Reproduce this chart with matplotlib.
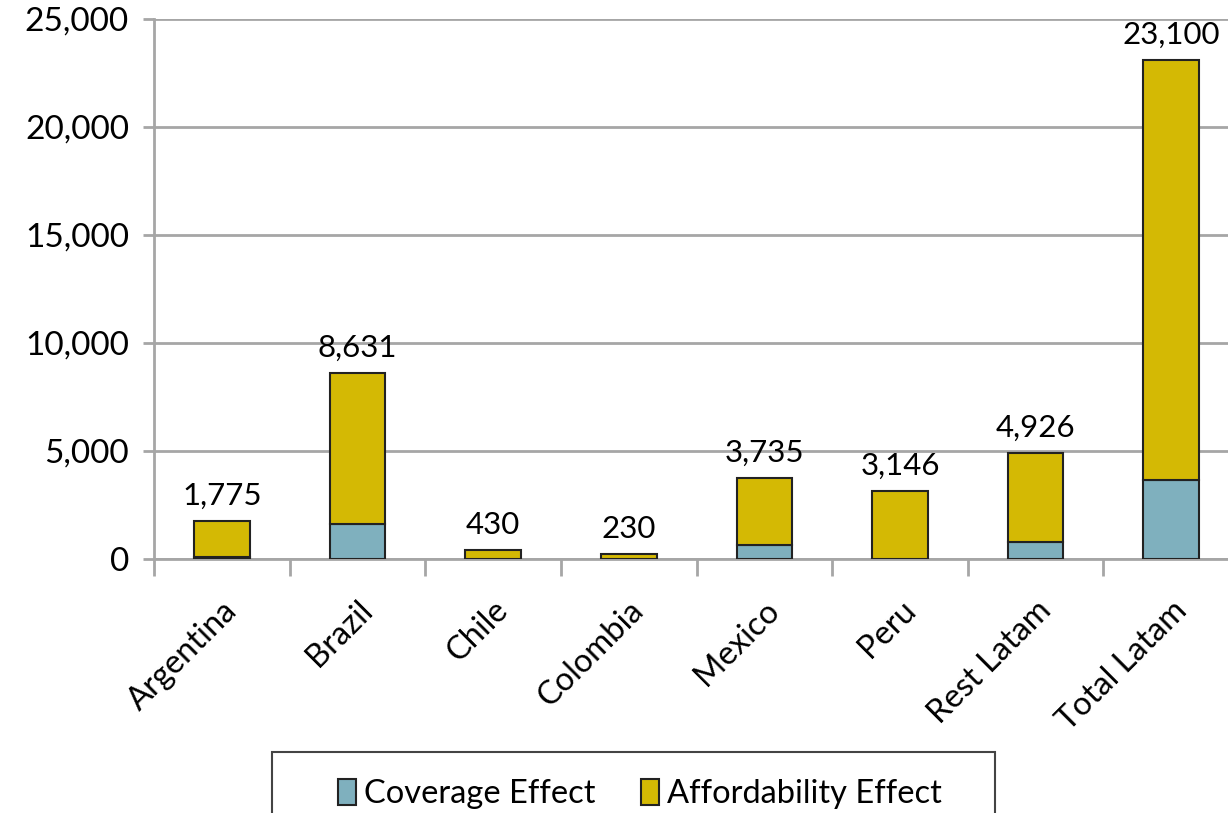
import numpy as np
import matplotlib.pyplot as plt
import matplotlib.transforms as mtransforms
from matplotlib.patches import Rectangle
from matplotlib.ticker import FuncFormatter, FixedLocator

plt.rcParams['font.family'] = ['Lato', 'DejaVu Sans']

countries = ["Argentina", "Brazil", "Chile", "Colombia", "Mexico", "Peru", "Rest Latam", "Total Latam"]
totals = [1775, 8631, 430, 230, 3735, 3146, 4926, 23100]
coverage = [90, 1640, 0, 0, 660, 0, 770, 3680]
affordability = [t - c for t, c in zip(totals, coverage)]

cov_color = "#7FB0BE"
aff_color = "#D4B904"
grid_color = "#A6A6A6"

fig = plt.figure(figsize=(12.28, 8.13), dpi=100)
ax = fig.add_axes([0.1254, 0.3124, 0.8836, 0.6642])

x = np.arange(len(countries))
w = 0.41
ax.bar(x, coverage, w, color=cov_color, edgecolor="#222222", linewidth=1.5, label="Coverage Effect", zorder=3)
ax.bar(x, affordability, w, bottom=coverage, color=aff_color, edgecolor="#222222", linewidth=1.5,
       label="Affordability Effect", zorder=3)

for xi, t in zip(x, totals):
    ax.annotate(f"{t:,}", (xi, t), xytext=(0, 8), textcoords="offset points",
                ha="center", va="bottom", fontsize=22.5)

ax.set_xlim(-0.5, len(countries) - 0.5)
ax.set_ylim(0, 25000)
ax.set_yticks(np.arange(0, 25001, 5000))
ax.yaxis.set_major_formatter(FuncFormatter(lambda v, p: f"{int(v):,}"))
ax.yaxis.grid(True, color=grid_color, linewidth=2)
ax.set_axisbelow(True)

ax.set_xticks(x)
ax.set_xticklabels(countries, rotation=45, ha="right", rotation_mode="anchor", fontsize=23.5)
shift = mtransforms.ScaledTranslation(10 / 100, 0, fig.dpi_scale_trans)
for lbl in ax.get_xticklabels():
    lbl.set_transform(lbl.get_transform() + shift)
ax.xaxis.set_minor_locator(FixedLocator(np.arange(-0.5, len(countries), 1)))
ax.tick_params(axis="x", which="major", length=0, pad=26)
ax.tick_params(axis="x", which="minor", length=12, width=2, color=grid_color)
ax.tick_params(axis="y", length=8, width=2, color=grid_color, labelsize=24, pad=10)

for s in ["top", "right"]:
    ax.spines[s].set_visible(False)
for s in ["left", "bottom"]:
    ax.spines[s].set_color(grid_color)
    ax.spines[s].set_linewidth(2)

# legend without its own frame; the frame is drawn as a separate box that runs off the bottom
fig.legend(loc="upper left", bbox_to_anchor=(338 / 1228, 0.042), ncol=2, fontsize=23.5,
           frameon=False, handlelength=0.55, handleheight=0.85, handletextpad=0.25,
           columnspacing=1.4, borderpad=0, borderaxespad=0)
fig.patches.append(Rectangle((272 / 1228, -0.05), 723 / 1228, 0.125, transform=fig.transFigure,
                             fill=False, edgecolor="#444444", linewidth=1.5))

fig.savefig("out.png", dpi=100)
